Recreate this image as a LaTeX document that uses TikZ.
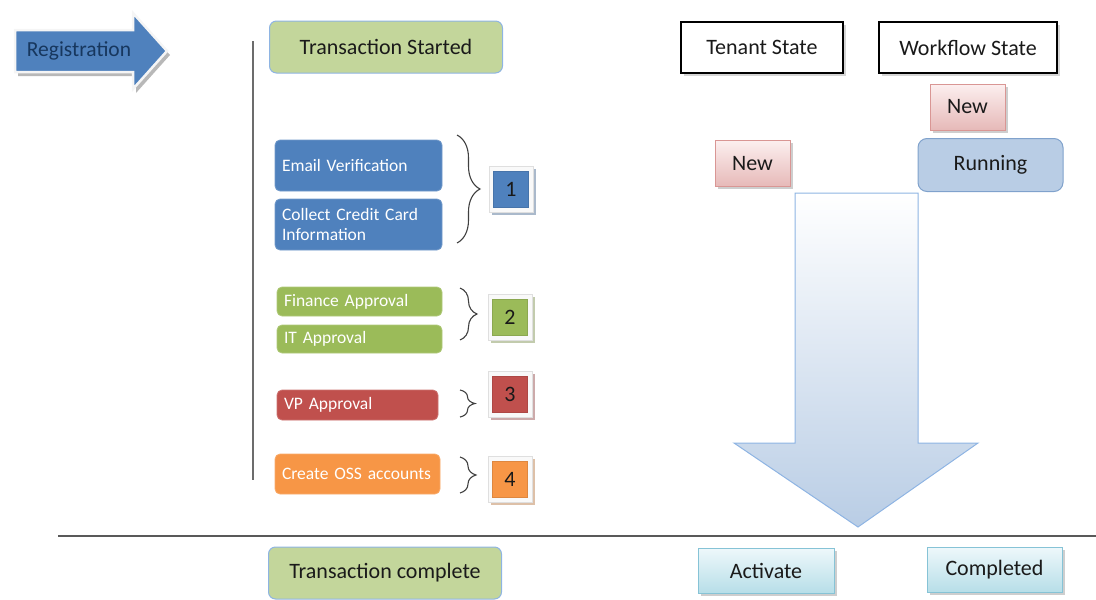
\documentclass[tikz,border=0pt]{standalone}
\usepackage{fontspec}
\setmainfont{Carlito}
\usetikzlibrary{shadows,decorations.pathreplacing}
\definecolor{blueF}{HTML}{4F81BD}
\definecolor{greenF}{HTML}{9BBB59}
\definecolor{redF}{HTML}{C0504D}
\definecolor{orangeF}{HTML}{F79646}
\definecolor{lgreen}{HTML}{C3D69B}
\definecolor{lblueB}{HTML}{8EB4E3}
\definecolor{runF}{HTML}{B9CDE5}
\definecolor{pinkT}{HTML}{FCEFEF}
\definecolor{pinkB}{HTML}{E6B9B8}
\definecolor{pinkD}{HTML}{D99694}
\definecolor{cyanT}{HTML}{EEF8FB}
\definecolor{cyanB}{HTML}{B7DEE8}
\definecolor{cyanD}{HTML}{86C3D6}
\definecolor{txtD}{HTML}{1A1A1A}
\definecolor{regT}{HTML}{17375E}
\newcommand\fhead{\fontsize{22}{26}\selectfont}
\newcommand\fbody{\fontsize{17.5}{20.5}\selectfont}
\newcommand\freg{\fontsize{21.5}{25}\selectfont}
\begin{document}
\begin{tikzpicture}[x=1pt,y=-1pt,
  every node/.style={inner sep=0pt},
  sh/.style={drop shadow={shadow xshift=2.5pt,shadow yshift=-2.5pt,fill=#1,opacity=.55}},
  task/.style={rounded corners=5pt, fill=#1, draw=#1!80!white, line width=0.8pt,
    text=white, align=left, font=\fbody},
  milestone/.style={rounded corners=7pt, fill=lgreen, draw=lblueB, line width=1pt,
    text=txtD, font=\fhead, minimum width=233, minimum height=52},
  header/.style={fill=white, draw=black, line width=1.2pt, text=txtD, font=\fhead,
    minimum height=51, sh=gray!60},
  pinkbox/.style={top color=pinkT, bottom color=pinkB, draw=pinkD, line width=0.8pt,
    text=txtD, font=\fhead, minimum width=75, minimum height=46, sh=gray!70},
  cyanbox/.style={top color=cyanT, bottom color=cyanB, draw=cyanD, line width=0.8pt,
    text=txtD, font=\fhead, minimum width=135, minimum height=45, sh=gray!70},
  numframe/.style={fill=white!95!gray, draw=gray!25, line width=0.6pt,
    minimum width=44, minimum height=46, sh=#1!55!gray},
  numin/.style={fill=#1, draw=#1!90!black, line width=0.4pt, minimum width=35,
    minimum height=36, text=black!90, font=\fhead},
  bracestyle/.style={decorate, decoration={brace, amplitude=#1}, draw=black!75,
    line width=1.1pt},
]
\useasboundingbox (0,0) rectangle (1096,600);

% Registration arrow
\path[fill=blueF, draw=white!92!gray, line width=2.5pt, line join=miter,
  drop shadow={shadow xshift=3pt,shadow yshift=-4pt,fill=gray!70,opacity=.8}]
  (15,30) -- (133,30) -- (133,13) -- (167,51) -- (133,89) -- (133,72) -- (15,72) -- cycle;
\node[text=regT, font=\freg] (reg) at (79,51) {Registration};

% timeline
\coordinate (vtop) at (253,41);
\coordinate (vbot) at (253,480);
\draw[gray!85!black, line width=1.8pt] (vtop) -- (vbot);
\coordinate (hl) at (58,536);
\coordinate (hr) at (1096,536);
\draw[black!65, line width=1.6pt] (hl) -- (hr);

% milestones
\node[milestone] (tstart) at (386,47) {Transaction Started};
\node[milestone] (tcomp) at (385,573) {Transaction complete};

% tasks
\node[task=blueF, minimum width=167, minimum height=51, text width=153] (email) at (358.5,165.5) {Email Verification};
\node[task=blueF, minimum width=167, minimum height=51, text width=153] (collect) at (358.5,224.5) {Collect Credit Card\\Information};
\node[task=greenF, minimum width=165, minimum height=29, text width=151] (fin) at (359.5,301.5) {Finance Approval};
\node[task=greenF, minimum width=165, minimum height=28, text width=151] (it) at (359.5,339) {IT Approval};
\node[task=redF, minimum width=161, minimum height=30, text width=147] (vp) at (357.5,405) {VP Approval};
\node[task=orangeF, minimum width=165, minimum height=40, text width=151] (oss) at (357.5,474) {Create OSS accounts};

% braces
\coordinate (b1a) at (457,135); \coordinate (b1b) at (457,243);
\draw[bracestyle=23] (b1a) -- (b1b);
\coordinate (b2a) at (460,288); \coordinate (b2b) at (460,340);
\draw[bracestyle=17] (b2a) -- (b2b);
\coordinate (b3a) at (460,390); \coordinate (b3b) at (460,417);
\draw[bracestyle=15] (b3a) -- (b3b);
\coordinate (b4a) at (460,457); \coordinate (b4b) at (460,493);
\draw[bracestyle=16] (b4a) -- (b4b);

% number boxes
\node[numframe=blueF] (f1) at (511,189) {};
\node[numin=blueF] (n1) at (f1) {1};
\node[numframe=greenF] (f2) at (510,317) {};
\node[numin=greenF] (n2) at (f2) {2};
\node[numframe=redF] (f3) at (510,394) {};
\node[numin=redF] (n3) at (f3) {3};
\node[numframe=orangeF] (f4) at (510,479) {};
\node[numin=orangeF] (n4) at (f4) {4};

% state headers
\node[header, minimum width=162] (tenant) at (762,47.5) {Tenant State};
\node[header, minimum width=178] (wfs) at (968,47.5) {Workflow State};

\node[pinkbox] (newwf) at (967.5,107) {New};
\node[pinkbox] (newt) at (752.5,163.5) {New};
\node[rounded corners=9pt, fill=runF, draw=lblueB!90!black, line width=1pt, text=txtD,
  font=\fhead, minimum width=145, minimum height=53] (run) at (990.5,165) {Running};

% big down arrow
\path[top color=white, bottom color=runF, draw=lblueB, line width=1pt]
  (795,193) -- (918,193) -- (918,443) -- (978,443) -- (858,527) -- (734,443) -- (795,443) -- cycle;

\node[cyanbox, minimum width=136] (act) at (766,570.5) {Activate};
\node[cyanbox] (done) at (994.5,569.5) {Completed};
\end{tikzpicture}
\end{document}
